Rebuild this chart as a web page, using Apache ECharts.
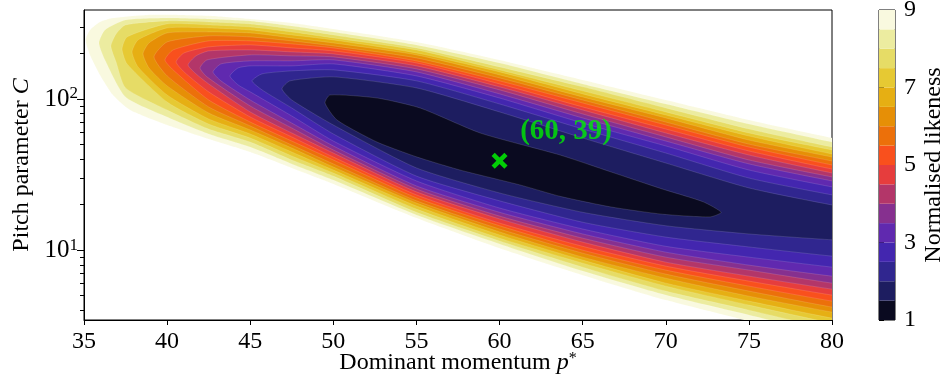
<!DOCTYPE html>
<html>
<head>
<meta charset="utf-8">
<script src="https://cdn.jsdelivr.net/npm/echarts@6/dist/echarts.min.js"></script>
<style>
  html, body { margin: 0; background: #fff; }
  #chart { width: 944px; height: 378px; }
</style>
</head>
<body>
<div id="chart"></div>
<script>
// axis ranges and ticks
const X_MIN = 35, X_MAX = 80, X_STEP = 5;
const Y_MIN = 3.45, Y_MAX = 388;
const Y_MAJOR = [10, 100];
const Y_MAJOR_EXP = ['1', '2'];
const Y_MINOR = [4, 5, 6, 7, 8, 9, 20, 30, 40, 50, 60, 70, 80, 90, 200, 300];

// contour levels (normalised likeness) and band colours (CMRmap)
const LEVELS = [1, 1.5, 2, 2.5, 3, 3.5, 4, 4.5, 5, 5.5, 6, 6.5, 7, 7.5, 8, 8.5, 9];
const BAND_COLORS = ['#0a0a20', '#1d1d60', '#30268f', '#4326af', '#6029af', '#86308f', '#b33669', '#e63d3d',
  '#f9501d', '#ec700a', '#e68f06', '#e6af13', '#e6c933', '#e6dc66', '#ececa0', '#f9f9df'];
const CBAR_TICKS = [1, 3, 5, 7, 9];

// best point
const BEST = [60, 39];
const BEST_LABEL_AT = [64, 60.5];

// contour outlines [p*, C]: left tip -> upper edge -> lower edge
const lvl9 = [[35.1, 246], [35.36, 286.5], [35.96, 323.6], [36.74, 343.7], [38.79, 360], [40.78, 360], [42.76, 354.5],
  [45, 338.7], [47.5, 318.6], [50, 290.9], [55, 238.6], [60, 181.4], [65, 133.8], [70, 98.5], [75, 72.6], [80, 55.2],
  [83, 47.4], [83, 2.11], [80, 2.46], [75, 3.39], [70, 4.67], [65, 6.83], [60, 10.3], [55, 16.3], [50, 27.4],
  [47.5, 35.0], [45, 44.6], [42.5, 54.4], [40, 67.3], [37.77, 84.6], [36.74, 106.3], [35.96, 144.4], [35.36, 195.8]];
const lvl8_5 = [[35.9, 235], [36.26, 286.5], [37.5, 333.6], [40, 343.7], [42.5, 338.7], [45, 328.6], [47.5, 304.5],
  [50, 277.9], [55, 228], [60, 173.2], [65, 125.9], [70, 92.7], [75, 68.3], [80, 51.9], [83, 44.6], [83, 2.35],
  [80, 2.74], [75, 3.72], [70, 5.04], [65, 7.27], [60, 11.0], [55, 17.1], [50, 29.1], [47.5, 37.2], [45, 48.1],
  [42.5, 58.7], [40, 76.0], [37.5, 103.1], [36.26, 181.4]];
const lvl8 = [[36.62, 224], [36.93, 269.6], [37.5, 309.1], [40, 328.6], [42.5, 323.6], [45, 313.9], [47.5, 290.9],
  [50, 265.5], [55, 217.7], [60, 163.1], [65, 120.3], [70, 87.2], [75, 63.3], [80, 48.1], [83, 42.0], [83, 2.62],
  [80, 3.00], [75, 4.01], [70, 5.36], [65, 7.72], [60, 11.5], [55, 17.8], [50, 30.9], [47.5, 39.5], [45, 51.9],
  [42.5, 63.3], [40, 84.6], [37.5, 118.4], [36.93, 176.0]];
const lvl7_5 = [[37.29, 214], [37.59, 257.5], [40, 313.9], [42.5, 309.1], [45, 299.8], [47.5, 277.9], [50, 253.6],
  [55, 211.2], [60, 155.8], [65, 113.2], [70, 82.1], [75, 59.6], [80, 46.0], [83, 39.5], [83, 2.87], [80, 3.29],
  [75, 4.33], [70, 5.78], [65, 8.20], [60, 12.0], [55, 18.7], [50, 32.4], [47.5, 42.0], [45, 55.2], [42.5, 68.3],
  [40, 95.5], [37.59, 170.7]];
const lvl7 = [[37.89, 205], [38.25, 246], [40, 295.2], [42.5, 295.2], [45, 286.5], [47.5, 265.5], [50, 246],
  [55, 201.7], [60, 151.1], [65, 108.1], [70, 78.4], [75, 56.9], [80, 43.3], [83, 37.7], [83, 3.14], [80, 3.55],
  [75, 4.60], [70, 6.05], [65, 8.59], [60, 12.6], [55, 19.6], [50, 33.9], [47.5, 44.6], [45, 58.7], [42.5, 73.8],
  [40, 106.3], [38.25, 163.1]];
const lvl6_5 = [[38.55, 199], [38.91, 234.9], [40, 273.6], [42.5, 277.9], [45, 273.6], [47.5, 253.6], [50, 234.9],
  [55, 195.8], [60, 144.4], [65, 103.1], [70, 74.9], [75, 53.5], [80, 41.3], [83, 35.5], [83, 3.44], [80, 3.89],
  [75, 4.96], [70, 6.52], [65, 8.99], [60, 13.2], [55, 20.5], [50, 35.5], [47.5, 47.4], [45, 62.4], [42.5, 80.8],
  [40, 122.1], [38.91, 160.5]];
const lvl6 = [[39.21, 190], [40, 238.6], [42.5, 261.5], [45, 257.5], [47.5, 242.3], [50, 224.6], [55, 187.0],
  [60, 137.9], [65, 98.5], [70, 70.4], [75, 50.3], [80, 38.9], [83, 33.4], [83, 3.77], [80, 4.20], [75, 5.36],
  [70, 6.94], [65, 9.55], [60, 13.8], [55, 21.2], [50, 37.2], [47.5, 49.6], [45, 66.3], [42.5, 88.6], [40, 142.2]];
const lvl5_5 = [[39.87, 181.4], [40.36, 211.2], [42.5, 242.3], [45, 242.3], [47.5, 231.5], [50, 217.7], [55, 178.7],
  [60, 131.8], [65, 94.1], [70, 67.3], [75, 48.1], [80, 36.6], [83, 31.9], [83, 4.14], [80, 4.60], [75, 5.78],
  [70, 7.38], [65, 10.0], [60, 14.5], [55, 22.2], [50, 39.5], [47.5, 52.7], [45, 70.4], [42.5, 98.5], [40.36, 155.8]];
const lvl5 = [[40.54, 176], [41.02, 201.7], [42.5, 221.2], [45, 228], [47.5, 217.7], [50, 208.0], [55, 173.2],
  [60, 125.9], [65, 88.6], [70, 63.3], [75, 45.3], [80, 34.4], [83, 30.0], [83, 4.53], [80, 5.04], [75, 6.24],
  [70, 7.84], [65, 10.6], [60, 15.1], [55, 23.2], [50, 41.3], [47.5, 56.1], [45, 76.0], [42.5, 111.5], [41.02, 151.1]];
const lvl4_5 = [[41.26, 168.1], [41.74, 192.9], [42.5, 208.0], [45, 211.2], [47.5, 204.9], [50, 198.7], [55, 165.6],
  [60, 120.3], [65, 84.6], [70, 59.6], [75, 42.6], [80, 32.4], [83, 28.2], [83, 5.04], [80, 5.52], [75, 6.73],
  [70, 8.33], [65, 11.3], [60, 16.1], [55, 24.3], [50, 43.9], [47.5, 59.6], [45, 82.1], [42.5, 125.9], [41.74, 146.6]];
const lvl4 = [[41.98, 160.5], [42.4, 181.4], [45, 195.8], [47.5, 192.9], [50, 189.9], [55, 158.2], [60, 114.9],
  [65, 79.6], [70, 56.1], [75, 39.5], [80, 30.5], [83, 26.6], [83, 5.52], [80, 6.05], [75, 7.38], [70, 8.99],
  [65, 12.0], [60, 16.8], [55, 25.4], [50, 46.0], [47.5, 64.3], [45, 89.9], [42.4, 140.1]];
const lvl3_5 = [[42.76, 151.1], [43.24, 170.7], [45, 178.7], [47.5, 178.7], [50, 181.4], [55, 151.1], [60, 108.1],
  [65, 74.9], [70, 52.7], [75, 37.2], [80, 28.7], [83, 25.0], [83, 6.24], [80, 6.73], [75, 7.96], [70, 9.70],
  [65, 12.8], [60, 17.8], [55, 26.6], [50, 48.9], [47.5, 69.3], [45, 98.5], [43.24, 131.8]];
const lvl3 = [[43.78, 142], [44.27, 160.5], [45, 165.6], [47.5, 165.6], [50, 170.7], [55, 142.2], [60, 101.5],
  [65, 69.3], [70, 48.9], [75, 33.9], [80, 26.2], [83, 22.9], [83, 7.16], [80, 7.72], [75, 8.99], [70, 10.6],
  [65, 13.8], [60, 19.0], [55, 28.7], [50, 52.7], [47.5, 77.2], [45, 111.5], [44.27, 124.0]];
const lvl2_5 = [[45.11, 131.8], [45.71, 146.6], [47.5, 153.5], [50, 155.8], [55, 131.8], [60, 92.7], [65, 63.3],
  [70, 43.9], [75, 30.0], [80, 23.2], [83, 20.5], [83, 8.59], [80, 9.13], [75, 10.5], [70, 12.2], [65, 15.3],
  [60, 21.2], [55, 30.9], [50, 58.7], [47.5, 87.2], [45.71, 114.9]];
const lvl2 = [[46.91, 116.7], [47.39, 131.8], [50, 140.1], [55, 118.4], [60, 82.1], [65, 55.2], [70, 37.7],
  [75, 25.8], [80, 19.9], [83, 17.6], [83, 11.2], [80, 11.7], [75, 12.8], [70, 14.5], [65, 17.8], [60, 23.9],
  [55, 35.0], [50, 67.3], [47.5, 98.5]];
const lvl1_5 = [[49.5, 94.1], [49.8, 106.3], [52.63, 101.5], [55.22, 87.2], [58.83, 59.6], [63.64, 42.6],
  [66.71, 32.9], [69.78, 25.4], [72.24, 20.9], [73.33, 17.8], [72.67, 16.6], [69.78, 17.3], [66.71, 19.3],
  [63.64, 22.7], [61.23, 27.0], [57.62, 33.9], [55.04, 41.3], [52.63, 51.9], [50.22, 72.6]];

const contours = [
  { level: 9, pts: lvl9 }, { level: 8.5, pts: lvl8_5 }, { level: 8, pts: lvl8 }, { level: 7.5, pts: lvl7_5 },
  { level: 7, pts: lvl7 }, { level: 6.5, pts: lvl6_5 }, { level: 6, pts: lvl6 }, { level: 5.5, pts: lvl5_5 },
  { level: 5, pts: lvl5 }, { level: 4.5, pts: lvl4_5 }, { level: 4, pts: lvl4 }, { level: 3.5, pts: lvl3_5 },
  { level: 3, pts: lvl3 }, { level: 2.5, pts: lvl2_5 }, { level: 2, pts: lvl2 }, { level: 1.5, pts: lvl1_5 },
];

const serif = '"Liberation Serif", "DejaVu Serif", serif';
const chart = echarts.init(document.getElementById('chart'), null, { renderer: 'canvas' });

chart.setOption({
  animation: false,
  grid: [
    { left: 84, right: 112, top: 10, bottom: 58, outerBoundsMode: 'none', show: true, borderColor: '#000', borderWidth: 1 },
    { left: 879, width: 16, top: 10, bottom: 58, outerBoundsMode: 'none', show: true, borderColor: '#000', borderWidth: 1 },
  ],
  xAxis: [
    {
      type: 'value', gridIndex: 0, min: X_MIN, max: X_MAX, interval: X_STEP,
      axisLine: { show: true, onZero: false, lineStyle: { color: '#000' } },
      axisTick: { show: true, length: 5, lineStyle: { color: '#000' } },
      axisLabel: { color: '#000', fontFamily: serif, fontSize: 24, margin: 10 },
      splitLine: { show: false },
      name: 'Dominant momentum {i|p}{s|*}',
      nameLocation: 'middle', nameGap: 31, nameMoveOverlap: false,
      nameTextStyle: {
        color: '#000', fontFamily: serif, fontSize: 24,
        rich: {
          i: { fontFamily: serif, fontSize: 24, fontStyle: 'italic', color: '#000' },
          s: { fontFamily: serif, fontSize: 16, color: '#000', verticalAlign: 'top', padding: [0, 0, 8, 0] },
        },
      },
    },
    { type: 'value', gridIndex: 1, min: 0, max: 1, show: false },
  ],
  yAxis: [
    {
      type: 'log', logBase: 10, gridIndex: 0, min: Y_MIN, max: Y_MAX,
      axisLine: { show: true, onZero: false, lineStyle: { color: '#000' } },
      axisTick: { show: true, length: 7, customValues: Y_MAJOR, lineStyle: { color: '#000' } },
      axisLabel: {
        customValues: Y_MAJOR, color: '#000', fontFamily: serif, fontSize: 25, margin: 6,
        formatter: (v) => '10{s|' + Y_MAJOR_EXP[Y_MAJOR.indexOf(v)] + '}',
        rich: { s: { fontFamily: serif, fontSize: 17, color: '#000', verticalAlign: 'top', padding: [0, 0, 10, 0] } },
      },
      splitLine: { show: false },
      name: 'Pitch parameter {i|C}',
      nameLocation: 'middle', nameGap: 50, nameRotate: 90,
      nameTextStyle: {
        color: '#000', fontFamily: serif, fontSize: 24,
        rich: { i: { fontFamily: serif, fontSize: 24, fontStyle: 'italic', color: '#000' } },
      },
    },
    {
      type: 'log', logBase: 10, gridIndex: 0, min: Y_MIN, max: Y_MAX, position: 'left', offset: 0,
      axisLine: { show: false },
      axisTick: { show: true, length: 4, customValues: Y_MINOR, lineStyle: { color: '#000' } },
      axisLabel: { show: false },
      splitLine: { show: false },
    },
    {
      type: 'value', gridIndex: 1, min: 1, max: 9, interval: 2, position: 'right',
      axisLine: { show: false },
      axisTick: { show: true, length: 5, lineStyle: { color: '#000' } },
      axisLabel: { color: '#000', fontFamily: serif, fontSize: 24, margin: 9 },
      splitLine: { show: false },
      name: 'Normalised likeness',
      nameLocation: 'middle', nameGap: 27, nameRotate: 90,
      nameTextStyle: { color: '#000', fontFamily: serif, fontSize: 24 },
    },
  ],
  series: [
    {
      type: 'custom', xAxisIndex: 0, yAxisIndex: 0, clip: true, silent: true, z: 1,
      data: contours.map((c, i) => [c.pts[0][0], c.pts[0][1], i]),
      renderItem: (params, api) => {
        const c = contours[params.dataIndex];
        const pts = c.pts.map((pt) => api.coord(pt));
        return {
          type: 'polygon',
          shape: { points: pts, smooth: 0.2 },
          style: { fill: BAND_COLORS[LEVELS.indexOf(c.level) - 1], stroke: 'rgba(255,255,255,0.22)', lineWidth: 0.6 },
        };
      },
    },
    {
      type: 'custom', xAxisIndex: 1, yAxisIndex: 2, silent: true,
      data: BAND_COLORS.map((c, i) => [0, LEVELS[i]]),
      renderItem: (params, api) => {
        const i = params.dataIndex;
        const a = api.coord([0, LEVELS[i]]);
        const b = api.coord([1, LEVELS[i + 1]]);
        return {
          type: 'rect',
          shape: { x: a[0], y: b[1], width: b[0] - a[0], height: a[1] - b[1] },
          style: { fill: BAND_COLORS[i] },
        };
      },
    },
    {
      type: 'scatter', xAxisIndex: 0, yAxisIndex: 0, z: 5,
      data: [BEST],
      symbol: 'path://M0,2 L2,0 L5,3 L8,0 L10,2 L7,5 L10,8 L8,10 L5,7 L2,10 L0,8 L3,5 Z',
      symbolSize: 16,
      itemStyle: { color: '#00ff00' },
    },
    {
      type: 'scatter', xAxisIndex: 0, yAxisIndex: 0, z: 5,
      data: [BEST_LABEL_AT],
      symbolSize: 0,
      label: {
        show: true, position: 'inside',
        formatter: () => '(' + BEST[0] + ', ' + BEST[1] + ')',
        color: '#00ee00', fontFamily: serif, fontWeight: 'bold', fontSize: 29,
      },
    },
  ],
});
</script>
</body>
</html>
